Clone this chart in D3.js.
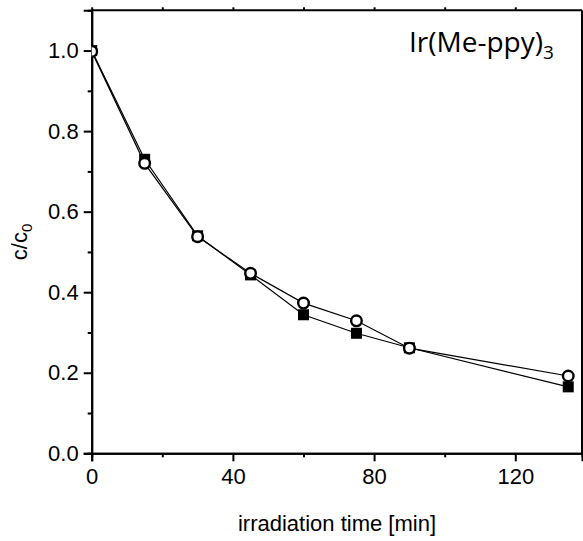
<!DOCTYPE html>
<html><head><meta charset="utf-8">
<script src="https://cdn.jsdelivr.net/npm/d3@7/dist/d3.min.js"></script>
<style>body{margin:0;background:#fff}svg{display:block}</style>
</head><body>
<svg id="c" width="583" height="541"></svg>
<script>
const times = [0, 15, 30, 45, 60, 75, 90, 135];
const squareSeries = [1.0, 0.73, 0.54, 0.443, 0.344, 0.298, 0.262, 0.165];
const circleSeries = [0.998, 0.72, 0.538, 0.447, 0.373, 0.329, 0.261, 0.192];
const xTicks = [0, 40, 80, 120];
const xMinor = [20, 60, 100];
const yTicks = [0.0, 0.2, 0.4, 0.6, 0.8, 1.0];
const yMinor = [0.1, 0.3, 0.5, 0.7, 0.9];
const titleText = "Ir(Me-ppy)";
const titleSub = "3";

const svg = d3.select("#c");
const L = 91.7, R = 582, T = 10.3, B = 453.3;
const x = d3.scaleLinear().domain([0, 138.9]).range([L, R]);
const y = d3.scaleLinear().domain([0, 1.1]).range([B, T]);

const font = "Liberation Sans, Arial, sans-serif";

// bottom axis
const gx = svg.append("g").attr("transform", `translate(0,${B})`)
  .call(d3.axisBottom(x).tickValues(xTicks).tickSize(8).tickPadding(7).tickFormat(d3.format("d")));
gx.append("g").call(d3.axisBottom(x).tickValues(xMinor).tickSize(4).tickFormat(""));
// left axis
const gy = svg.append("g").attr("transform", `translate(${L},0)`)
  .call(d3.axisLeft(y).tickValues(yTicks).tickSize(8).tickPadding(5).tickFormat(d3.format(".1f")));
gy.append("g").call(d3.axisLeft(y).tickValues(yMinor).tickSize(4).tickFormat(""));
// top axis
const gt = svg.append("g").attr("transform", `translate(0,${T})`)
  .call(d3.axisTop(x).tickValues(xTicks.concat(xMinor)).tickSize(3).tickFormat(""));
// right axis
const gr = svg.append("g").attr("transform", `translate(${R},0)`)
  .call(d3.axisRight(y).tickValues(yTicks.concat(yMinor)).tickSize(3).tickFormat(""));

svg.selectAll(".domain").attr("stroke", "#000").attr("stroke-width", 2);
svg.selectAll(".tick line").attr("stroke", "#000").attr("stroke-width", 2);
svg.selectAll(".tick text").attr("font-family", font).attr("font-size", 22).attr("fill", "#000");
[gt, gr].forEach(g => g.select(".domain").attr("d", null));
svg.append("line").attr("x1", L).attr("x2", R).attr("y1", T).attr("y2", T).attr("stroke", "#000").attr("stroke-width", 2);
svg.append("line").attr("x1", R).attr("x2", R).attr("y1", T).attr("y2", B).attr("stroke", "#000").attr("stroke-width", 2);

svg.append("clipPath").attr("id", "clip").append("rect")
  .attr("x", L).attr("y", T).attr("width", R - L).attr("height", B - T);
const plot = svg.append("g").attr("clip-path", "url(#clip)");

const line = d3.line().x((d, i) => x(times[i])).y(d => y(d));
plot.append("path").datum(squareSeries).attr("d", line).attr("fill", "none").attr("stroke", "#000").attr("stroke-width", 1.2);
plot.append("path").datum(circleSeries).attr("d", line).attr("fill", "none").attr("stroke", "#000").attr("stroke-width", 1.2);

plot.selectAll("rect.sq").data(squareSeries).enter().append("rect").attr("class", "sq")
  .attr("x", (d, i) => x(times[i]) - 5.5).attr("y", d => y(d) - 5.5)
  .attr("width", 11).attr("height", 11).attr("fill", "#000");
plot.selectAll("circle.ci").data(circleSeries).enter().append("circle").attr("class", "ci")
  .attr("cx", (d, i) => x(times[i])).attr("cy", d => y(d)).attr("r", 5.3)
  .attr("fill", "#fff").attr("stroke", "#000").attr("stroke-width", 2.4);

// axis titles
svg.append("text").attr("x", 337).attr("y", 531).attr("text-anchor", "middle")
  .attr("font-family", font).attr("font-size", 22).text("irradiation time [min]");
const yl = svg.append("text").attr("transform", "translate(27,242) rotate(-90)").attr("text-anchor", "middle")
  .attr("font-family", font).attr("font-size", 22);
yl.append("tspan").text("c/c");
yl.append("tspan").attr("font-size", 15).attr("dy", 5).text("0");

// title
const t = svg.append("text").attr("x", 409).attr("y", 52)
  .attr("font-family", "Open Sans, Lato, sans-serif").attr("font-size", 28);
t.append("tspan").text(titleText);
t.append("tspan").attr("font-size", 19).attr("dy", 7).text(titleSub);
</script>
</body></html>
